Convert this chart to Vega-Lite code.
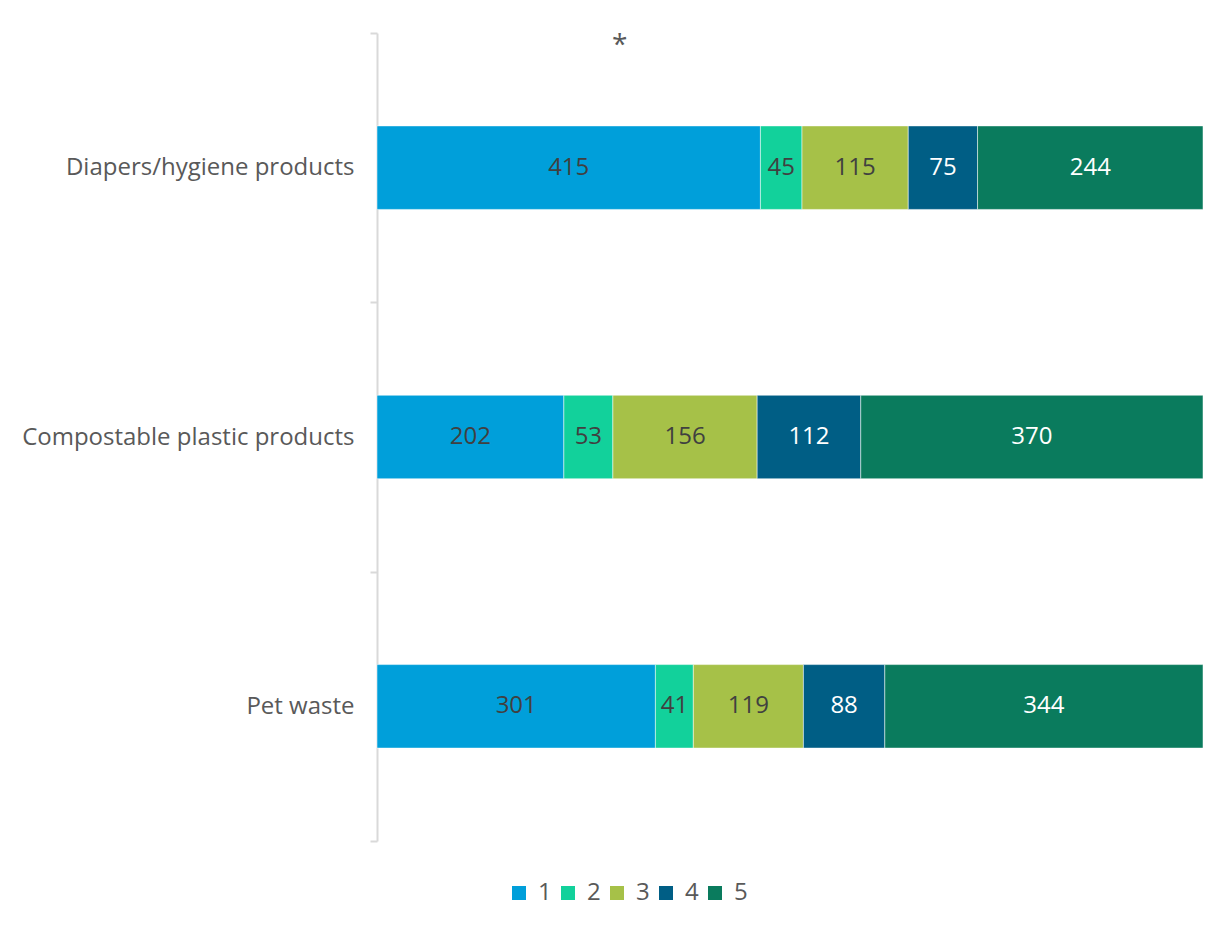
{
  "$schema": "https://vega.github.io/schema/vega-lite/v6.json",
  "autosize": {"type": "none"},
  "width": 826,
  "height": 808,
  "padding": {"left": 377, "top": 33, "right": 23, "bottom": 85},
  "background": "white",
  "config": {"view": {"stroke": null}},
  "title": {
    "text": "*",
    "anchor": "start",
    "frame": "group",
    "dx": 235,
    "offset": -39,
    "fontSize": 28,
    "font": "Open Sans",
    "fontWeight": "normal",
    "color": "#595959"
  },
  "data": {
    "values": [
      {"item": "Diapers/hygiene products", "rating": 1, "count": 415},
      {"item": "Diapers/hygiene products", "rating": 2, "count": 45},
      {"item": "Diapers/hygiene products", "rating": 3, "count": 115},
      {"item": "Diapers/hygiene products", "rating": 4, "count": 75},
      {"item": "Diapers/hygiene products", "rating": 5, "count": 244},
      {"item": "Compostable plastic products", "rating": 1, "count": 202},
      {"item": "Compostable plastic products", "rating": 2, "count": 53},
      {"item": "Compostable plastic products", "rating": 3, "count": 156},
      {"item": "Compostable plastic products", "rating": 4, "count": 112},
      {"item": "Compostable plastic products", "rating": 5, "count": 370},
      {"item": "Pet waste", "rating": 1, "count": 301},
      {"item": "Pet waste", "rating": 2, "count": 41},
      {"item": "Pet waste", "rating": 3, "count": 119},
      {"item": "Pet waste", "rating": 4, "count": 88},
      {"item": "Pet waste", "rating": 5, "count": 344}
    ]
  },
  "encoding": {
    "y": {
      "field": "item",
      "type": "nominal",
      "sort": ["Diapers/hygiene products", "Compostable plastic products", "Pet waste"],
      "scale": {"paddingInner": 0, "paddingOuter": 0},
      "axis": {
        "title": null,
        "domainColor": "#d9d9d9",
        "domainWidth": 2,
        "tickColor": "#d9d9d9",
        "tickWidth": 2,
        "tickSize": 7,
        "tickBand": "extent",
        "labelFont": "Open Sans",
        "labelFontSize": 24,
        "labelColor": "#595959",
        "labelPadding": 16,
        "labelLimit": 0
      }
    },
    "x": {
      "field": "count",
      "type": "quantitative",
      "stack": "normalize",
      "scale": {"domain": [0, 1], "nice": false},
      "axis": null
    }
  },
  "layer": [
    {
      "mark": {"type": "bar", "stroke": "white", "strokeWidth": 0.5, "height": {"band": 0.31}},
      "encoding": {
        "color": {
          "field": "rating",
          "type": "nominal",
          "scale": {"domain": [1, 2, 3, 4, 5], "range": ["#009FDA", "#12D19B", "#A6C148", "#005E85", "#0A7B5D"]},
          "legend": {
            "title": null,
            "orient": "none",
            "legendX": 130,
            "legendY": 848,
            "direction": "horizontal",
            "symbolType": "square",
            "symbolSize": 196,
            "symbolStrokeWidth": 0,
            "labelFont": "Open Sans",
            "labelFontSize": 24,
            "labelColor": "#595959",
            "columnPadding": 4,
            "labelOffset": 7
          }
        },
        "order": {"field": "rating", "type": "quantitative"}
      }
    },
    {
      "mark": {"type": "text", "font": "Open Sans", "fontSize": 24},
      "encoding": {
        "x": {"field": "count", "type": "quantitative", "stack": "normalize", "bandPosition": 0.5},
        "text": {"field": "count", "type": "quantitative"},
        "detail": {"field": "rating", "type": "nominal"},
        "order": {"field": "rating", "type": "quantitative"},
        "color": {"condition": {"test": "datum.rating >= 4", "value": "white"}, "value": "#404040"}
      }
    }
  ]
}
